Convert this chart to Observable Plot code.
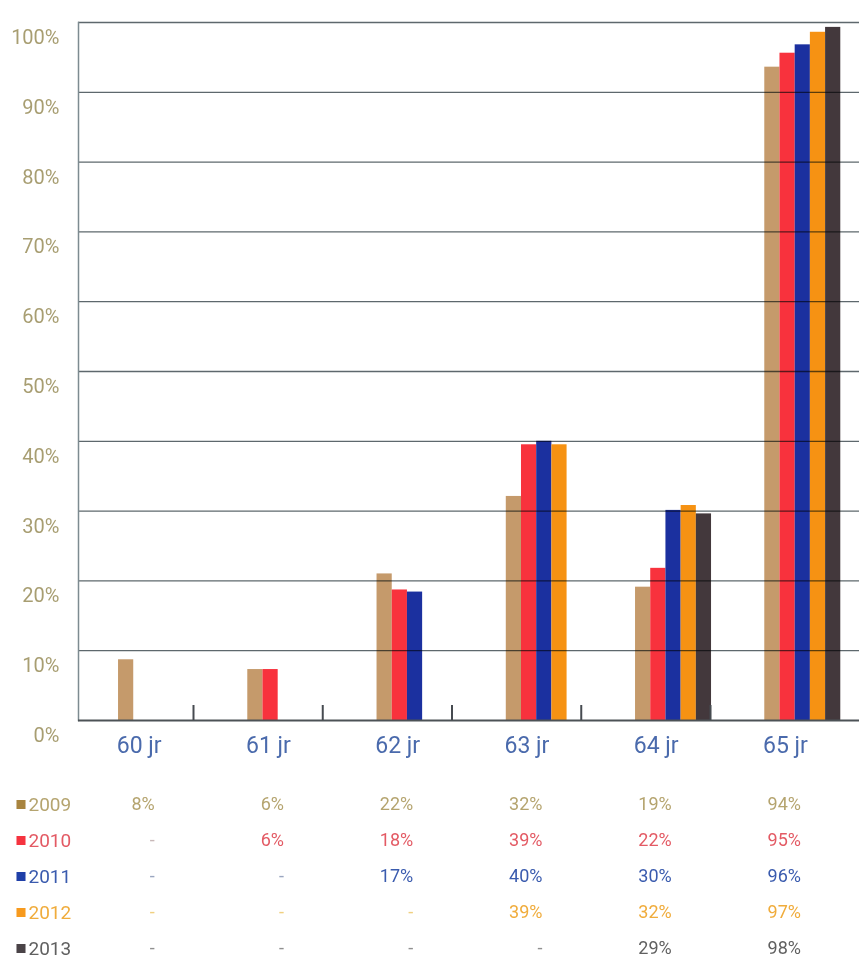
<!DOCTYPE html>
<html>
<head>
<meta charset="utf-8">
<script src="https://cdn.jsdelivr.net/npm/d3@7"></script>
<script src="https://cdn.jsdelivr.net/npm/@observablehq/plot@0.6"></script>
<style>
  html, body { margin: 0; padding: 0; background: #fff; }
  body { font-family: Roboto, sans-serif; }
  #chart svg, #table svg { display: block; }
</style>
</head>
<body>
<div id="chart"></div>
<div id="table"></div>
<script>
// ---------- data ----------
const categories = ["60 jr", "61 jr", "62 jr", "63 jr", "64 jr", "65 jr"];
const years = ["2009", "2010", "2011", "2012", "2013"];

// bar heights as drawn (percent)
const bars2009 = [8.7, 7.3, 21.0, 32.1, 19.1, 93.6];
const bars2010 = [null, 7.3, 18.7, 39.5, 21.8, 95.6];
const bars2011 = [null, null, 18.4, 40.0, 30.1, 96.8];
const bars2012 = [null, null, null, 39.5, 30.8, 98.6];
const bars2013 = [null, null, null, null, 29.6, 99.3];

// table labels printed under the chart
const labels2009 = ["8%", "6%", "22%", "32%", "19%", "94%"];
const labels2010 = ["-", "6%", "18%", "39%", "22%", "95%"];
const labels2011 = ["-", "-", "17%", "40%", "30%", "96%"];
const labels2012 = ["-", "-", "-", "39%", "32%", "97%"];
const labels2013 = ["-", "-", "-", "-", "29%", "98%"];

const yTicks = [0, 10, 20, 30, 40, 50, 60, 70, 80, 90, 100];

// ---------- styles ----------
const barColors = ["#c59a6b", "#f8323d", "#1b309f", "#f69213", "#43383c"];
const legendColors = ["#a8843f", "#f5333f", "#1f3fa8", "#f79a1e", "#4a4347"];
const textColors = ["#b5a46f", "#e35a64", "#3a5bae", "#f0ac3c", "#606060"];
const dashColors = ["#b5a46f", "#c8b8b8", "#9aa6c0", "#f0d080", "#909090"];

// ---------- layout ----------
const W = 859;
const H1 = 765, MT = 22, MB = 45, ML = 78;
const FRAME_H = H1 - MT - MB;
const TICK_LEN = 15;
const X_RANGE = [63.75, 839.25];   // six equal category bands
const GROUP_OFFSET = 0.42;         // first bar starts this far into its band
const BAR_W = 0.1176;              // bar width in band units
const LABEL_POS = 0.58;            // category label centre within its band
const VALUE_POS = 0.70;            // right edge of table values within band

const barSeries = [bars2009, bars2010, bars2011, bars2012, bars2013];
const labelSeries = [labels2009, labels2010, labels2011, labels2012, labels2013];

const barRows = years.flatMap((yr, j) =>
  categories.map((c, i) => ({cat: i, j, year: yr, v: barSeries[j][i]}))
).filter(d => d.v != null);

const chart = Plot.plot({
  width: W,
  height: H1,
  marginTop: MT,
  marginBottom: MB,
  marginLeft: ML,
  marginRight: 0,
  style: {fontFamily: "Roboto, sans-serif", background: "white"},
  x: {type: "linear", domain: [0, 6], range: X_RANGE, axis: null},
  y: {domain: [0, 100], axis: null},
  color: {domain: years, range: barColors},
  marks: [
    Plot.rectY(barRows, {
      x1: d => d.cat + GROUP_OFFSET + d.j * BAR_W,
      x2: d => d.cat + GROUP_OFFSET + (d.j + 1) * BAR_W,
      y: "v",
      fill: "year"
    }),
    Plot.ruleY(yTicks.filter(d => d > 0), {
      stroke: "#5e686d", strokeWidth: 1.3, mixBlendMode: "multiply"
    }),
    Plot.frame({anchor: "left", stroke: "#7d8b91", strokeWidth: 1.5}),
    Plot.ruleY([0], {stroke: "#4c5256", strokeWidth: 2}),
    Plot.tickX([1, 2, 3, 4, 5], {
      x: d => d, stroke: "#464b50", strokeWidth: 2, insetTop: FRAME_H - TICK_LEN
    }),
    Plot.text(yTicks, {
      y: d => d, frameAnchor: "left", dx: -19, dy: 15, textAnchor: "end",
      text: d => d + "%", fill: "#a89e72", fontSize: 20
    }),
    Plot.text(categories, {
      x: (d, i) => i + LABEL_POS, frameAnchor: "bottom", dy: 32,
      text: d => d, fill: "#4a6aac", fontSize: 23
    })
  ]
});
document.getElementById("chart").appendChild(chart);

// ---------- table / legend ----------
const H2 = 963 - H1;
const tableMarks = [];
years.forEach((yr, j) => {
  tableMarks.push(
    Plot.dot([yr], {
      y: d => d, frameAnchor: "left", dx: 20.5, symbol: "square", r: 5.1,
      fill: legendColors[j], stroke: null
    }),
    Plot.text([yr], {
      y: d => d, frameAnchor: "left", dx: 28, textAnchor: "start",
      text: d => d, fill: textColors[j], fontSize: 19
    }),
    Plot.text(categories.map((c, i) => ({i, label: labelSeries[j][i]})), {
      x: d => d.i + VALUE_POS, y: () => yr, textAnchor: "end",
      text: "label", fontSize: 18,
      fill: d => d.label === "-" ? dashColors[j] : textColors[j]
    })
  );
});

const table = Plot.plot({
  width: W,
  height: H2,
  margin: 0,
  style: {fontFamily: "Roboto, sans-serif", background: "white"},
  x: {type: "linear", domain: [0, 6], range: X_RANGE, axis: null},
  y: {type: "point", domain: years, range: [38, 184], padding: 0, axis: null},
  color: {type: "identity"},
  marks: tableMarks
});
document.getElementById("table").appendChild(table);
</script>
</body>
</html>
